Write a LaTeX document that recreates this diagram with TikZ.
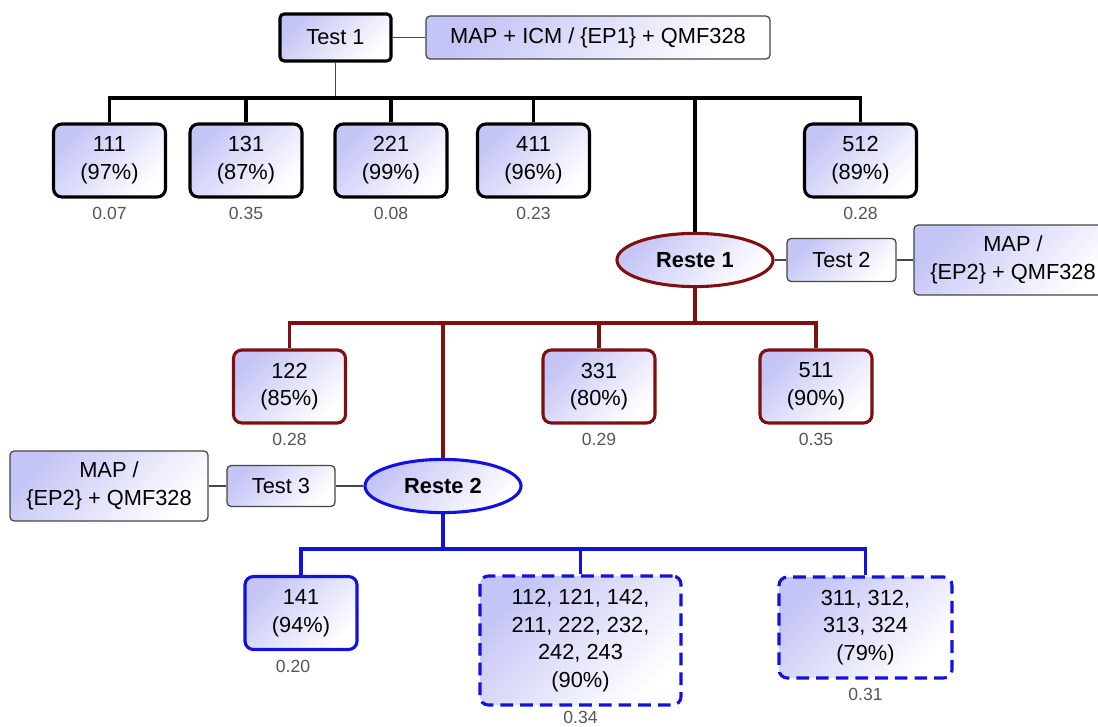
\documentclass[tikz,border=0pt]{standalone}
\usepackage{fontspec}
\setmainfont{Liberation Sans}
\usepackage{tikz}
\usetikzlibrary{positioning, shapes.geometric}
\definecolor{lavfill}{RGB}{196,196,246}
\definecolor{darkred}{RGB}{128,16,16}
\definecolor{deepblue}{RGB}{18,18,224}
\definecolor{linkgray}{RGB}{70,70,70}
\definecolor{valgray}{RGB}{85,85,85}
\tikzset{
bigtext/.style={font=\fontsize{15.5}{19.7}\selectfont}, % text inside the boxes
boxfill/.style={top color=lavfill, bottom color=white, shading angle=45}, % lavender to white
resbox/.style={bigtext, boxfill, draw, line width=2.2pt, rounded corners=6pt, align=center,
  minimum width=2.8cm, minimum height=1.825cm, inner sep=2pt}, % one class with its score
testbox/.style={bigtext, boxfill, draw=linkgray, line width=0.9pt, rounded corners=3pt, align=center, inner sep=2pt},
reste/.style={ellipse, bigtext, boxfill, draw, line width=2.2pt, font=\fontsize{15.5}{19.7}\selectfont\bfseries,
  minimum width=3.9cm, minimum height=1.33cm, inner sep=0pt}, % what is left after a test
val/.style={font=\fontsize{12.5}{14}\selectfont, text=valgray, inner sep=1pt}, % value under a box
link/.style={line width=1pt, linkgray},
tree1/.style={line width=2.3pt, black},
tree2/.style={line width=2.3pt, darkred},
tree3/.style={line width=2.3pt, deepblue},
}
\begin{document}
\begin{tikzpicture}[x=0.025cm, y=-0.025cm]
  \useasboundingbox (0,0) rectangle (1098,727);
  \coordinate (bus1) at (0,98);
  \coordinate (bus2) at (0,323);
  \coordinate (bus3) at (0,549);

  % test 1
  \node[testbox, draw=black, line width=2.2pt, minimum width=2.775cm, minimum height=1.175cm] (test1) at (335.5,37.5) {Test 1};
  \node[testbox, minimum width=8.6cm, minimum height=1.075cm] (map1) at (598,37.5) {MAP + ICM / \{EP1\} + QMF328};

  \node[resbox] (n111) at (109.5,160.5) {111\\(97\%)};
  \node[resbox] (n131) at (246,160.5) {131\\(87\%)};
  \node[resbox] (n221) at (391,160.5) {221\\(99\%)};
  \node[resbox] (n411) at (533.5,160.5) {411\\(96\%)};
  \node[resbox] (n512) at (860.5,160.5) {512\\(89\%)};
  \node[val, below=5pt of n111] (v111) {0.07};
  \node[val, below=5pt of n131] (v131) {0.35};
  \node[val, below=5pt of n221] (v221) {0.08};
  \node[val, below=5pt of n411] (v411) {0.23};
  \node[val, below=5pt of n512] (v512) {0.28};

  % test 2
  \node[reste, draw=darkred] (r1) at (695,260) {Reste 1};
  \node[testbox, minimum width=2.725cm, minimum height=1.075cm] (test2) at (841.5,260) {Test 2};
  \node[testbox, minimum width=4.95cm, minimum height=1.75cm] (map2) at (1013,260) {MAP /\\\{EP2\} + QMF328};

  \node[resbox, draw=darkred] (n122) at (289.5,386.5) {122\\(85\%)};
  \node[resbox, draw=darkred] (n331) at (599,386.5) {331\\(80\%)};
  \node[resbox, draw=darkred] (n511) at (816,386.5) {511\\(90\%)};
  \node[val, below=5pt of n122] (v122) {0.28};
  \node[val, below=5pt of n331] (v331) {0.29};
  \node[val, below=5pt of n511] (v511) {0.35};

  % test 3
  \node[reste, draw=deepblue] (r2) at (443,486) {Reste 2};
  \node[testbox, minimum width=2.7cm, minimum height=1.025cm] (test3) at (281,486) {Test 3};
  \node[testbox, minimum width=4.95cm, minimum height=1.75cm] (map3) at (109,486) {MAP /\\\{EP2\} + QMF328};

  \node[resbox, draw=deepblue] (n141) at (301,613) {141\\(94\%)};
  \node[resbox, draw=deepblue, dash pattern=on 9pt off 5pt, minimum width=5.025cm, minimum height=3.225cm] (nmid) at (580.5,640.5)
    {112, 121, 142,\\211, 222, 232,\\242, 243\\(90\%)};
  \node[resbox, draw=deepblue, dash pattern=on 9pt off 5pt, minimum width=4.325cm, minimum height=2.525cm] (nright) at (865.5,627.5)
    {311, 312,\\313, 324\\(79\%)};
  \node[val, below=5pt of n141, xshift=-8*0.025cm] (v141) {0.20};
  \node[val, below=2pt of nmid] (vmid) {0.34};
  \node[val, below=5pt of nright] (vright) {0.31};

  % connectors
  \draw[link] (test1) -- (map1);
  \draw[link] (test1.south) -- (test1 |- bus1);
  \draw[tree1] (n111.north) -- (n111 |- bus1) -- (n512 |- bus1) -- (n512.north);
  \draw[tree1] (n131.north) -- (n131 |- bus1);
  \draw[tree1] (n221.north) -- (n221 |- bus1);
  \draw[tree1] (n411.north) -- (n411 |- bus1);
  \draw[tree1] (r1.north) -- (r1 |- bus1);

  \draw[link] (r1) -- (test2) -- (map2);
  \draw[tree2] (n122.north) -- (n122 |- bus2) -- (n511 |- bus2) -- (n511.north);
  \draw[tree2] (n331.north) -- (n331 |- bus2);
  \draw[tree2] (r1.south) -- (r1 |- bus2);
  \draw[tree2] (r2.north) -- (r2 |- bus2);

  \draw[link] (map3) -- (test3) -- (r2);
  \draw[tree3] (n141.north) -- (n141 |- bus3) -- (nright |- bus3) -- (nright.north);
  \draw[tree3] (nmid.north) -- (nmid |- bus3);
  \draw[tree3] (r2.south) -- (r2 |- bus3);
\end{tikzpicture}
\end{document}
